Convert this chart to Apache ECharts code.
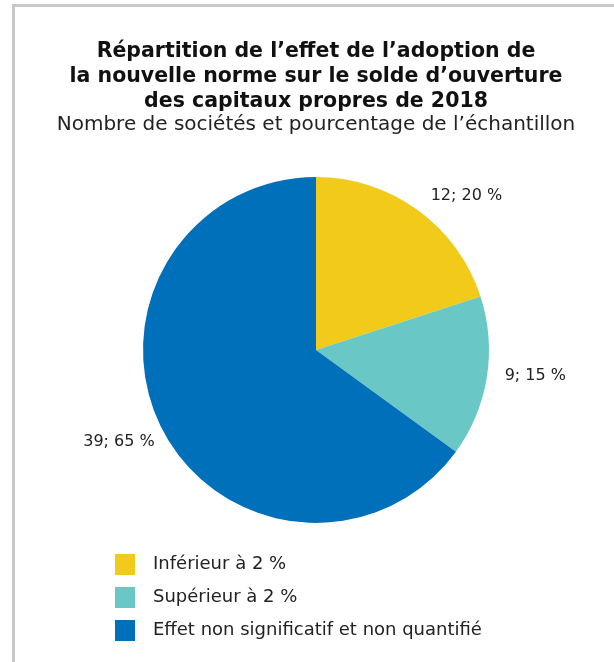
<!DOCTYPE html>
<html>
<head>
<meta charset="utf-8">
<script src="https://cdn.jsdelivr.net/npm/echarts@6/dist/echarts.min.js"></script>
<style>
  html, body { margin: 0; padding: 0; background: #fff; overflow: hidden; }
  #frame { position: absolute; left: 12px; top: 4px; width: 620px; height: 700px;
           border-left: 3px solid #c8c8c8; border-top: 3px solid #c8c8c8; }
  #main { position: absolute; left: 0; top: 0; width: 632px; height: 662px; }
</style>
</head>
<body>
<div id="frame"></div>
<div id="main"></div>
<script>
var categories = ['Inférieur à 2 %', 'Supérieur à 2 %', 'Effet non significatif et non quantifié'];
var counts = [12, 9, 39];
var percents = [20, 15, 65];
var colors = ['#f2ca1a', '#69c8c5', '#0070ba'];

var chart = echarts.init(document.getElementById('main'));
var pieData = categories.map(function (c, i) {
    return { name: c, value: counts[i], pct: percents[i] };
});

var option = {
    backgroundColor: 'transparent',
    color: colors,
    title: {
        text: 'Répartition de l’effet de l’adoption de\nla nouvelle norme sur le solde d’ouverture\ndes capitaux propres de 2018',
        subtext: 'Nombre de sociétés et pourcentage de l’échantillon',
        left: 'center',
        top: 34,
        itemGap: 1,
        textStyle: { fontFamily: 'DejaVu Sans', fontWeight: 'bold', fontSize: 20.5, color: '#111', lineHeight: 25 },
        subtextStyle: { fontFamily: 'DejaVu Sans', fontSize: 20, color: '#222' }
    },
    legend: {
        orient: 'vertical',
        left: 115,
        top: 554,
        padding: 0,
        itemWidth: 20,
        itemHeight: 21,
        itemGap: 12,
        icon: 'rect',
        data: categories,
        textStyle: { fontFamily: 'DejaVu Sans', fontSize: 18, color: '#222', padding: [0, 0, 0, 13] }
    },
    series: [{
        type: 'pie',
        center: [316, 350],
        radius: 173,
        startAngle: 90,
        clockwise: true,
        avoidLabelOverlap: false,
        silent: true,
        data: pieData,
        label: {
            show: true,
            position: 'outside',
            fontFamily: 'DejaVu Sans',
            fontSize: 16,
            color: '#222',
            formatter: function (p) { return p.value + '; ' + p.data.pct + ' %'; }
        },
        labelLine: { show: false, length: 17, length2: 2 },
        labelLayout: function (p) {
            if (p.dataIndex === 0) return { dx: -4, dy: 0 };
            if (p.dataIndex === 1) return { dx: -6, dy: -4 };
            if (p.dataIndex === 2) return { dx: 15, dy: 6 };
            return {};
        }
    }]
};
chart.setOption(option);
</script>
</body>
</html>
